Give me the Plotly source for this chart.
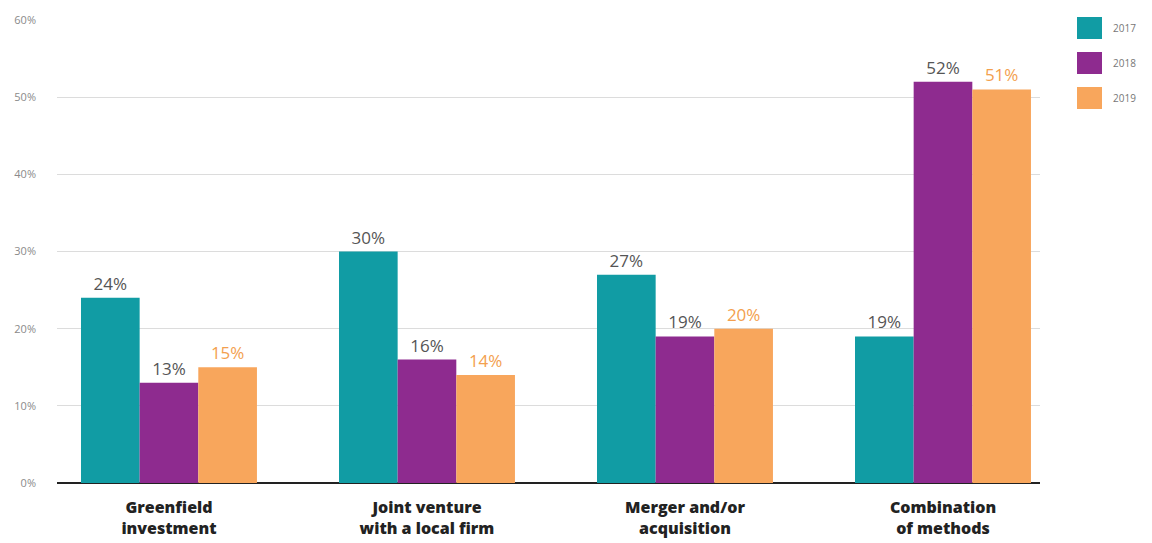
import plotly.graph_objects as go

categories = ["Greenfield<br>investment", "Joint venture<br>with a local firm",
              "Merger and/or<br>acquisition", "Combination<br>of methods"]
years = ["2017", "2018", "2019"]
v2017 = [24, 30, 27, 19]
v2018 = [13, 16, 19, 52]
v2019 = [15, 14, 20, 51]
tick_vals = [0, 10, 20, 30, 40, 50, 60]
tick_text = ["0%", "10%", "20%", "30%", "40%", "50%", "60%"]

colors = ["#119ca4", "#8e2b8f", "#f8a65c"]
text_colors = ["#555555", "#555555", "#f3a04e"]
series = [v2017, v2018, v2019]

fig = go.Figure()
for name, vals, col, tcol in zip(years, series, colors, text_colors):
    fig.add_trace(go.Bar(
        x=categories, y=vals, name=name,
        marker=dict(color=col, line=dict(width=0)),
        text=[f"{v}%" for v in vals], textposition="outside",
        textfont=dict(color=tcol, size=17, family="Open Sans"),
        cliponaxis=False, showlegend=False,
    ))

fig.update_layout(
    width=1152, height=543,
    margin=dict(l=57, r=112, t=20, b=60, autoexpand=False),
    paper_bgcolor="white", plot_bgcolor="white",
    barmode="group", bargap=0.318, bargroupgap=0,
    font=dict(family="Open Sans", color="#555555"),
    xaxis=dict(range=[-0.434, 3.376], showgrid=False, ticks="", automargin=False,
               tickfont=dict(size=16, color="#222222", family="Open Sans", weight=800),
               ticklabelstandoff=13,
               showline=False, zeroline=False),
    yaxis=dict(range=[0, 60], tickvals=tick_vals, ticktext=tick_text, automargin=False,
               showgrid=True, gridcolor="#dcdcdc", gridwidth=1,
               zeroline=True, zerolinecolor="#222222", zerolinewidth=2,
               tickfont=dict(size=11, color="#8a8a8a"), ticklabelstandoff=20,
               showline=False),
)

# custom legend
leg_y = [28, 63, 98]
for yr, col, yc in zip(years, colors, leg_y):
    fig.add_shape(type="rect", xref="paper", yref="paper",
                  x0=(1077 - 57) / 983, x1=(1102 - 57) / 983,
                  y0=(483 - (yc + 11)) / 463, y1=(483 - (yc - 11)) / 463,
                  fillcolor=col, line=dict(width=0))
    fig.add_annotation(xref="paper", yref="paper",
                       x=(1111 - 57) / 983, y=(483 - yc) / 463,
                       text=yr, showarrow=False, xanchor="left", yanchor="middle",
                       font=dict(size=10, color="#777777"))

fig.write_html("out.html", config={"displayModeBar": False},
               post_script="document.body.style.margin='0px';")
